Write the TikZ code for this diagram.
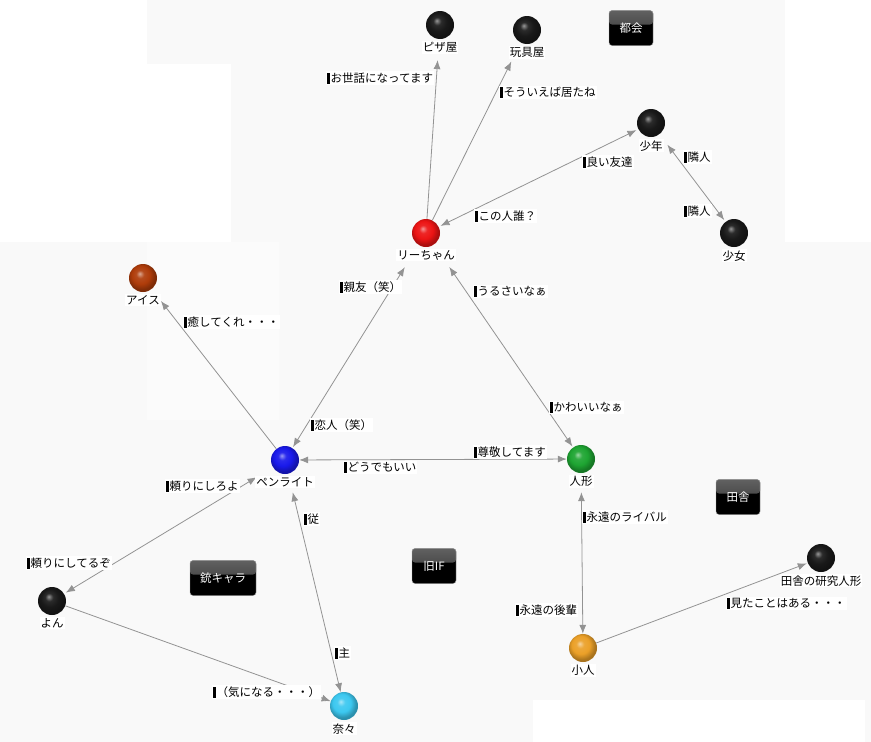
\documentclass[tikz,border=0pt]{standalone}
\usepackage{fontspec}
\setmainfont{Noto Sans CJK JP}
\usepackage{tikz}
\usetikzlibrary{positioning}
\usetikzlibrary{arrows.meta}
\definecolor{ballred}{RGB}{236,20,20}
\definecolor{ballblue}{RGB}{25,25,235}
\definecolor{ballgreen}{RGB}{30,165,50}
\definecolor{ballbrown}{RGB}{175,60,10}
\definecolor{ballorange}{RGB}{235,160,40}
\definecolor{ballcyan}{RGB}{60,200,240}
\definecolor{ballblack}{RGB}{25,25,25}
\colorlet{sphcol}{ballblack}
\pgfdeclareradialshading[sphcol]{sphshade}{\pgfpoint{-6bp}{8bp}}{color(0bp)=(sphcol!45!white); color(7bp)=(sphcol!92!white); color(16bp)=(sphcol); color(25bp)=(sphcol!72!black); color(50bp)=(sphcol!72!black)}
\tikzstyle{sphere} = [circle,inner sep=0pt,minimum size=28pt,shading=sphshade]
\tikzstyle{sphlabel} = [fill=white,inner sep=1pt,font=\fontsize{11.5}{12}\selectfont]
\tikzstyle{conn} = [draw=gray!85,line width=0.8pt,-{Latex[length=9pt,width=7pt]}]
\tikzstyle{dconn} = [draw=gray!85,line width=0.8pt,{Latex[length=9pt,width=7pt]}-{Latex[length=9pt,width=7pt]}]
\newcommand{\tagbar}{\rule[-1.5pt]{2.5pt}{11pt}\hspace{1pt}}
\tikzstyle{elabel} = [fill=white,inner sep=1pt,anchor=west,font=\fontsize{11.5}{12}\selectfont,execute at begin node=\tagbar]
\tikzstyle{groupbox} = [rounded corners=3pt,fill=black,draw=gray!70,text=white,minimum width=44pt,minimum height=35pt,
  font=\fontsize{11.5}{12}\selectfont,
  path picture={\shade[top color=black!62,bottom color=black!82] (path picture bounding box.north west) rectangle ([yshift=-14pt]path picture bounding box.north east);}]
\newcommand{\sphc}[1]{\colorlet{sphcol}{#1}}

\begin{document}
\begin{tikzpicture}[x=1pt,y=-1pt]
				\useasboundingbox (0,0) rectangle (871,742);
				
				%Background
				\fill[black!2.5] (0,0) rectangle (871,742);
				\fill[white] (0,0) rectangle (147,64);
				\fill[white] (0,64) rectangle (231,242);
				\fill[white] (785,0) rectangle (871,242);
				\fill[black!1.5] (147,242) rectangle (279,420);
				\fill[white] (533,700) rectangle (865,742);
				
				%Groups
				\node [groupbox] (toshi) at (631,28) {都会};
				\node [groupbox] (inaka) at (738,497) {田舎};
				\node [groupbox,minimum width=66pt] (ju) at (223,578) {銃キャラ};
				\node [groupbox] (kyu) at (434,566) {旧IF};
				
				%Nodes
				\sphc{ballblack}
				\node [sphere] (pizza) at (440,25) {};
				\node [sphere] (toy) at (527,30) {};
				\node [sphere] (shonen) at (651,123) {};
				\node [sphere] (shojo) at (734,233) {};
				\node [sphere] (yon) at (52,601) {};
				\node [sphere] (kenkyu) at (821,558) {};
				\sphc{ballred}
				\node [sphere] (lee) at (426,233) {};
				\sphc{ballbrown}
				\node [sphere] (ice) at (143,278) {};
				\sphc{ballblue}
				\node [sphere] (pen) at (285,460) {};
				\sphc{ballgreen}
				\node [sphere] (doll) at (581,459) {};
				\sphc{ballorange}
				\node [sphere] (kobito) at (583,648) {};
				\sphc{ballcyan}
				\node [sphere] (nana) at (344,706) {};
				
				%Lines
				\draw [conn,shorten >=21pt] (lee) -- (pizza);
				\draw [conn,shorten >=21pt] (lee) -- (toy);
				\draw [dconn,shorten <=2pt,shorten >=2pt] (lee) -- (shonen);
				\draw [dconn,shorten <=13pt,shorten >=2pt] (shonen) -- (shojo);
				\draw [dconn,shorten <=26pt,shorten >=1pt] (lee) -- (pen);
				\draw [dconn,shorten <=27pt,shorten >=1pt] (lee) -- (doll);
				\draw [conn,shorten >=15pt] (pen) -- (ice);
				\draw [dconn] (pen) -- (doll);
				\draw [dconn,shorten <=19pt,shorten >=2pt] (pen) -- (yon);
				\draw [dconn,shorten <=19pt] (pen) -- (nana);
				\draw [conn] (yon) -- (nana);
				\draw [dconn,shorten <=19pt] (doll) -- (kobito);
				\draw [conn,shorten >=1pt] (kobito) -- (kenkyu);
				
				%Names
				\node [sphlabel,below=2pt of pizza] (pizzaN) {ピザ屋};
				\node [sphlabel,below=2pt of toy] (toyN) {玩具屋};
				\node [sphlabel,below=2pt of shonen] (shonenN) {少年};
				\node [sphlabel,below=2pt of shojo] (shojoN) {少女};
				\node [sphlabel,below=2pt of lee] (leeN) {リーちゃん};
				\node [sphlabel,below=2pt of ice] (iceN) {アイス};
				\node [sphlabel,below=2pt of pen] (penN) {ペンライト};
				\node [sphlabel,below=2pt of doll] (dollN) {人形};
				\node [sphlabel,below=2pt of yon] (yonN) {よん};
				\node [sphlabel,below=2pt of kenkyu] (kenkyuN) {田舎の研究人形};
				\node [sphlabel,below=2pt of kobito] (kobitoN) {小人};
				\node [sphlabel,below=2pt of nana] (nanaN) {奈々};
				
				%Labels
				\node [elabel] (l1) at (326,78) {お世話になってます};
				\node [elabel] (l2) at (499,92) {そういえば居たね};
				\node [elabel] (l3) at (582,162) {良い友達};
				\node [elabel] (l4) at (474,216) {この人誰？};
				\node [elabel] (l5) at (683,157) {隣人};
				\node [elabel] (l6) at (683,211) {隣人};
				\node [elabel] (l7) at (339,287) {親友（笑）};
				\node [elabel] (l8) at (473,291) {うるさいなぁ};
				\node [elabel] (l9) at (183,322) {癒してくれ・・・};
				\node [elabel] (l10) at (310,425) {恋人（笑）};
				\node [elabel] (l11) at (549,407) {かわいいなぁ};
				\node [elabel] (l12) at (473,452) {尊敬してます};
				\node [elabel] (l13) at (343,467) {どうでもいい};
				\node [elabel] (l14) at (165,486) {頼りにしろよ};
				\node [elabel] (l15) at (26,563) {頼りにしてるぞ};
				\node [elabel] (l16) at (303,519) {従};
				\node [elabel] (l17) at (334,653) {主};
				\node [elabel] (l18) at (212,692) {（気になる・・・）};
				\node [elabel] (l19) at (582,517) {永遠のライバル};
				\node [elabel] (l20) at (515,610) {永遠の後輩};
				\node [elabel] (l21) at (726,603) {見たことはある・・・};
				
			\end{tikzpicture}
\end{document}
